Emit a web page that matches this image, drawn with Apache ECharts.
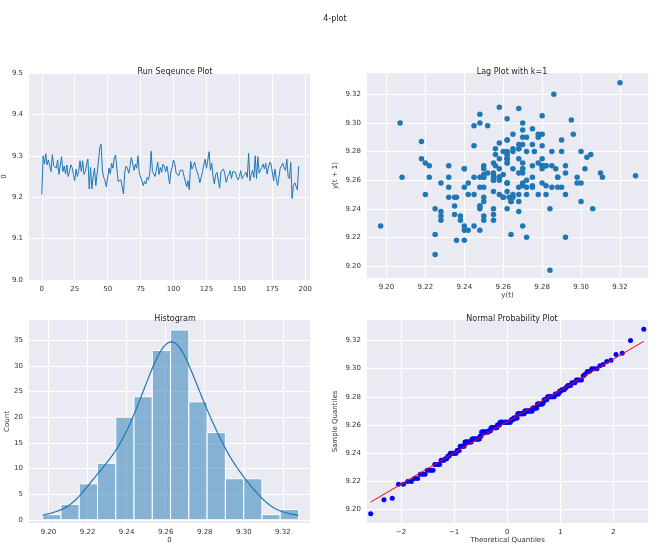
<!DOCTYPE html>
<html><head><meta charset="utf-8">
<script src="https://cdn.jsdelivr.net/npm/echarts@6/dist/echarts.min.js"></script>
<style>html,body{margin:0;padding:0;background:#fff}#c{width:660px;height:545px}</style>
</head><body><div id="c"></div>
<script>
var series = [9.207,9.300,9.280,9.305,9.278,9.290,9.288,9.262,9.303,9.276,9.280,
9.270,9.290,9.255,9.252,9.298,9.262,9.275,9.256,9.278,9.250,
9.262,9.278,9.272,9.255,9.240,9.268,9.250,9.262,9.288,9.262,
9.288,9.255,9.262,9.280,9.292,9.220,9.272,9.220,9.250,9.270,
9.228,9.258,9.286,9.320,9.328,9.263,9.248,9.240,9.225,9.222,
9.270,9.256,9.282,9.270,9.295,9.302,9.268,9.238,9.235,9.242,
9.225,9.208,9.262,9.275,9.270,9.258,9.275,9.296,9.292,9.265,
9.280,9.270,9.300,9.258,9.262,9.240,9.228,9.238,9.232,9.248,
9.242,9.258,9.311,9.262,9.258,9.250,9.268,9.285,9.255,9.272,
9.260,9.280,9.275,9.262,9.275,9.255,9.232,9.262,9.272,9.290,
9.280,9.258,9.262,9.252,9.265,9.268,9.265,9.250,9.248,9.225,
9.240,9.218,9.287,9.268,9.275,9.285,9.270,9.272,9.250,9.235,
9.248,9.262,9.278,9.292,9.270,9.268,9.310,9.265,9.282,9.250,
9.232,9.255,9.260,9.264,9.222,9.262,9.258,9.268,9.255,9.236,
9.248,9.255,9.264,9.245,9.262,9.258,9.260,9.248,9.242,9.250,
9.264,9.245,9.250,9.255,9.260,9.248,9.306,9.240,9.255,9.265,
9.248,9.300,9.245,9.298,9.258,9.262,9.272,9.280,9.268,9.282,
9.256,9.270,9.285,9.280,9.284,9.240,9.268,9.245,9.228,9.232,
9.270,9.268,9.282,9.270,9.265,9.292,9.250,9.245,9.284,9.197,
9.228,9.235,9.236,9.218,9.275];
var histCounts = [1,3,7,11,20,24,33,37,23,17,8,8,1,2];
var runTicks = [0,25,50,75,100,125,150,175,200];

var n = series.length;
var runData = series.map(function(v,i){return [i,v];});
var lagData = [];
for (var i=0;i<n-1;i++) lagData.push([series[i],series[i+1]]);
var mn = Math.min.apply(null,series), mx = Math.max.apply(null,series);
var bw = (mx-mn)/histCounts.length;
var histData = histCounts.map(function(c,i){return [mn+i*bw, mn+(i+1)*bw, c];});
var mean = series.reduce(function(a,b){return a+b;},0)/n;
var sd = Math.sqrt(series.reduce(function(a,b){return a+(b-mean)*(b-mean);},0)/(n-1));
var h = sd*Math.pow(n,-0.2);
var kde = [];
for (var k=0;k<=200;k++){var x=mn+(mx-mn)*k/200,s=0;
  for (var j=0;j<n;j++){var z=(x-series[j])/h;s+=Math.exp(-0.5*z*z);}
  kde.push([x, s/(n*h*Math.sqrt(2*Math.PI))*n*bw]);}
function ninv(p){var a=[-39.6968302866538,220.946098424521,-275.928510446969,138.357751867269,-30.6647980661472,2.50662827745924],
b=[-54.4760987982241,161.585836858041,-155.698979859887,66.8013118877197,-13.2806815528857],
c=[-0.00778489400243029,-0.322396458041136,-2.40075827716184,-2.54973253934373,4.37466414146497,2.93816398269878],
d=[0.00778469570904146,0.32246712907004,2.445134137143,3.75440866190742],pl=0.02425,q,r;
if(p<pl){q=Math.sqrt(-2*Math.log(p));return (((((c[0]*q+c[1])*q+c[2])*q+c[3])*q+c[4])*q+c[5])/((((d[0]*q+d[1])*q+d[2])*q+d[3])*q+1);}
if(p>1-pl){q=Math.sqrt(-2*Math.log(1-p));return -(((((c[0]*q+c[1])*q+c[2])*q+c[3])*q+c[4])*q+c[5])/((((d[0]*q+d[1])*q+d[2])*q+d[3])*q+1);}
q=p-0.5;r=q*q;return (((((a[0]*r+a[1])*r+a[2])*r+a[3])*r+a[4])*r+a[5])*q/(((((b[0]*r+b[1])*r+b[2])*r+b[3])*r+b[4])*r+1);}
var sorted = series.slice().sort(function(a,b){return a-b;});
var qq = sorted.map(function(v,i){return [ninv((i+1)/(n+1)),v];});
var q0=qq[0][0], q1=qq[n-1][0];
var qline=[[q0,mean+sd*q0],[q1,mean+sd*q1]];

var grids=[{left:29,top:73,width:281,height:207},{left:367,top:73,width:281,height:205},
{left:29,top:320,width:281,height:210},{left:367,top:320,width:281,height:206}];
grids.forEach(function(g){g.backgroundColor='#eaeaf2';g.show=true;g.borderWidth=0;});
var lab={fontSize:7,color:'#333',fontFamily:'DejaVu Sans'};
var nm={fontSize:7,color:'#333',fontFamily:'DejaVu Sans'};
function ax(gi,o){return Object.assign({gridIndex:gi,type:'value',axisLine:{show:false},axisTick:{show:false},
 splitLine:{show:true,lineStyle:{color:'#fff',width:1}},axisLabel:Object.assign({margin:6},lab),nameTextStyle:nm},o);}
function f2(v){return v.toFixed(2);}
var titles=[['Run Seqeunce Plot',170,63],['Lag Plot with k=1',507,63],['Histogram',170,310],['Normal Probability Plot',507,310]];
var option={animation:false,
title:[{text:'4-plot',left:330,top:10,textAlign:'center',textStyle:{fontSize:8,fontWeight:'normal',color:'#222',fontFamily:'DejaVu Sans'}}]
 .concat(titles.map(function(t){return {text:t[0],left:t[1],top:t[2],textAlign:'center',textStyle:{fontSize:8,fontWeight:'normal',color:'#222',fontFamily:'DejaVu Sans'}};})),
grid:grids,
xAxis:[ax(0,{min:-9.7,max:203.6,axisLabel:Object.assign({customValues:runTicks,margin:6},lab),axisTick:{show:false,customValues:runTicks}}),
 ax(1,{min:9.19,max:9.3344,interval:0.02,name:'y(t)',nameLocation:'middle',nameGap:14,axisLabel:Object.assign({formatter:f2,customValues:[9.20,9.22,9.24,9.26,9.28,9.30,9.32],margin:6},lab),axisTick:{show:false,customValues:[9.20,9.22,9.24,9.26,9.28,9.30,9.32]}}),
 ax(2,{min:9.19,max:9.3339,name:'0',nameLocation:'middle',nameGap:14,axisLabel:Object.assign({formatter:f2,customValues:[9.20,9.22,9.24,9.26,9.28,9.30,9.32],margin:6},lab),axisTick:{show:false,customValues:[9.20,9.22,9.24,9.26,9.28,9.30,9.32]}}),
 ax(3,{min:-2.64,max:2.65,name:'Theoretical Quantiles',nameLocation:'middle',nameGap:14,axisLabel:Object.assign({customValues:[-2,-1,0,1,2],formatter:function(v){return v<0?'\u2212'+(-v):''+v;},margin:6},lab),axisTick:{show:false,customValues:[-2,-1,0,1,2]}})],
yAxis:[ax(0,{min:9.0,max:9.5,interval:0.1,name:'0',nameLocation:'middle',nameGap:20,axisLabel:Object.assign({formatter:function(v){return v.toFixed(1);},margin:6},lab)}),
 ax(1,{min:9.1916,max:9.3349,name:'y(t + 1)',nameLocation:'middle',nameGap:28,axisLabel:Object.assign({formatter:f2,customValues:[9.20,9.22,9.24,9.26,9.28,9.30,9.32],margin:6},lab),axisTick:{show:false,customValues:[9.20,9.22,9.24,9.26,9.28,9.30,9.32]}}),
 ax(2,{min:-0.63,max:38.95,name:'Count',nameLocation:'middle',nameGap:16,axisLabel:Object.assign({customValues:[0,5,10,15,20,25,30,35],margin:6},lab),axisTick:{show:false,customValues:[0,5,10,15,20,25,30,35]}}),
 ax(3,{min:9.1905,max:9.3345,name:'Sample Quantiles',nameLocation:'middle',nameGap:28,axisLabel:Object.assign({formatter:f2,customValues:[9.20,9.22,9.24,9.26,9.28,9.30,9.32],margin:6},lab),axisTick:{show:false,customValues:[9.20,9.22,9.24,9.26,9.28,9.30,9.32]}})],
series:[
 {type:'line',xAxisIndex:0,yAxisIndex:0,data:runData,showSymbol:false,lineStyle:{color:'#1f77b4',width:1}},
 {type:'scatter',xAxisIndex:1,yAxisIndex:1,data:lagData,symbolSize:5.5,itemStyle:{color:'#1f77b4',opacity:1}},
 {type:'custom',xAxisIndex:2,yAxisIndex:2,data:histData,renderItem:function(p,api){
   var a=api.coord([api.value(0),api.value(2)]),b=api.coord([api.value(1),0]);
   return {type:'rect',shape:{x:a[0],y:a[1],width:b[0]-a[0],height:b[1]-a[1]},style:{fill:'rgba(31,119,180,0.5)',stroke:'#fff',lineWidth:1}};}},
 {type:'line',xAxisIndex:2,yAxisIndex:2,data:kde,showSymbol:false,lineStyle:{color:'#1f77b4',width:1.2}},
 {type:'scatter',xAxisIndex:3,yAxisIndex:3,data:qq,symbolSize:5,itemStyle:{color:'#0000ff',opacity:1}},
 {type:'line',xAxisIndex:3,yAxisIndex:3,data:qline,showSymbol:false,lineStyle:{color:'#ff0000',width:1}}
]};
echarts.init(document.getElementById('c')).setOption(option);
</script></body></html>
